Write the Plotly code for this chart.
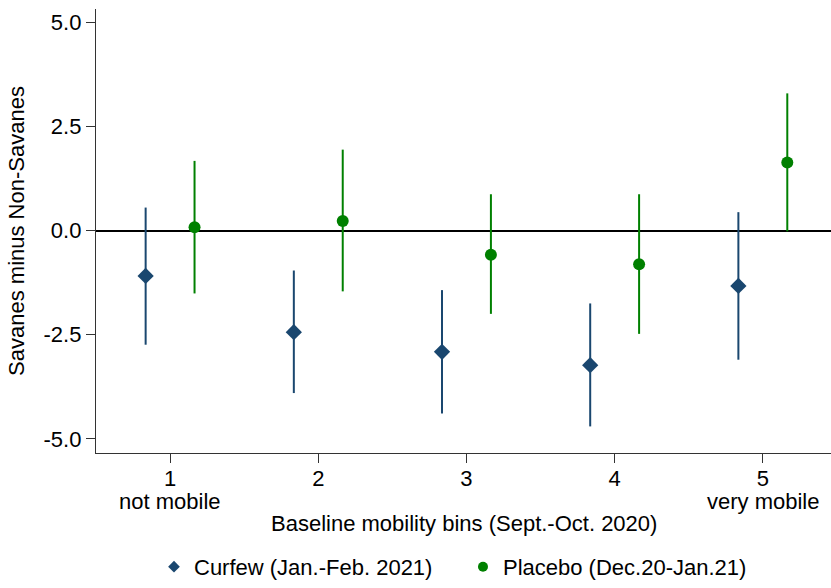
import plotly.graph_objects as go

# ---- data ----
bins = [1, 2, 3, 4, 5]
tick_labels = ["1", "2", "3", "4", "5"]
sub_labels = ["not mobile", "", "", "", "very mobile"]

curfew_est = [-1.09, -2.44, -2.91, -3.23, -1.33]
curfew_lo = [-2.74, -3.90, -4.39, -4.70, -3.10]
curfew_hi = [0.55, -0.96, -1.43, -1.75, 0.44]

placebo_est = [0.08, 0.23, -0.58, -0.81, 1.63]
placebo_lo = [-1.51, -1.46, -2.00, -2.48, -0.02]
placebo_hi = [1.67, 1.94, 0.87, 0.87, 3.29]

y_ticks = [-5, -2.5, 0, 2.5, 5]
y_tick_text = ["-5.0", "-2.5", "0.0", "2.5", "5.0"]

curfew_name = "Curfew (Jan.-Feb. 2021)"
placebo_name = "Placebo (Dec.20-Jan.21)"

# ---- style ----
NAVY = "#1a476f"
GREEN = "#008000"
FONT = "Liberation Sans, Arial, Helvetica, sans-serif"
FS = 22
OFFSET = 0.165

fig = go.Figure()

def add_series(est, lo, hi, shift, color, symbol, size, name, lsize, legend_id):
    xs = [b + shift for b in bins]
    fig.add_trace(go.Scatter(
        x=xs, y=est, mode="markers",
        marker=dict(color=color, symbol=symbol, size=size, line=dict(width=0)),
        error_y=dict(type="data", symmetric=False,
                     array=[h - e for h, e in zip(hi, est)],
                     arrayminus=[e - l for e, l in zip(est, lo)],
                     color=color, thickness=2, width=0),
        showlegend=False, name=name, hoverinfo="skip",
    ))
    fig.add_trace(go.Scatter(
        x=[None], y=[None], mode="markers",
        marker=dict(color=color, symbol=symbol, size=lsize, line=dict(width=0)),
        name=name, showlegend=True, legend=legend_id,
    ))

add_series(curfew_est, curfew_lo, curfew_hi, -OFFSET, NAVY, "diamond", 12.5, curfew_name, 9, "legend")
add_series(placebo_est, placebo_lo, placebo_hi, OFFSET, GREEN, "circle", 12, placebo_name, 10, "legend2")

annotations = []
for b, s in zip(bins, sub_labels):
    if s:
        annotations.append(dict(x=b, y=-0.079, xref="x", yref="paper", text=s,
                                showarrow=False, yanchor="top", xanchor="center",
                                borderpad=0,
                                font=dict(family=FONT, size=FS, color="black")))
annotations.append(dict(x=0.5, y=-0.1294, xref="paper", yref="paper",
                        text="Baseline mobility bins (Sept.-Oct. 2020)",
                        showarrow=False, yanchor="top", xanchor="center",
                        borderpad=0,
                        font=dict(family=FONT, size=FS, color="black")))

LEG_Y = -0.2565
leg_common = dict(orientation="h", y=LEG_Y, xanchor="left", yanchor="middle",
                  font=dict(family=FONT, size=FS), itemwidth=30,
                  bgcolor="rgba(0,0,0,0)")

fig.update_layout(
    width=831, height=588,
    margin=dict(l=96, r=0, t=9, b=131),
    paper_bgcolor="white", plot_bgcolor="white",
    font=dict(family=FONT, size=FS, color="black"),
    xaxis=dict(range=[0.5, 5.46], tickmode="array", tickvals=bins, ticktext=tick_labels,
               showline=True, linecolor="#333333", linewidth=1.3,
               ticks="outside", ticklen=9, tickcolor="#333333", tickwidth=1.3,
               ticklabelstandoff=-4,
               showgrid=False, zeroline=False, fixedrange=True, automargin=False),
    yaxis=dict(range=[-5.338, 5.314], tickmode="array", tickvals=y_ticks, ticktext=y_tick_text,
               showline=True, linecolor="#333333", linewidth=1.3,
               ticks="outside", ticklen=9, tickcolor="#333333", tickwidth=1.3,
               showgrid=False, zeroline=True, zerolinecolor="black", zerolinewidth=1.5,
               automargin=False, fixedrange=True,
               title=dict(text="Savanes minus Non-Savanes", standoff=12,
                          font=dict(family=FONT, size=FS))),
    legend=dict(x=0.0789, **leg_common),
    legend2=dict(x=0.4993, **leg_common),
    annotations=annotations,
)

fig.write_html("out.html", config={"displayModeBar": False},
               post_script="document.body.style.margin='0';document.body.style.overflow='hidden';")
